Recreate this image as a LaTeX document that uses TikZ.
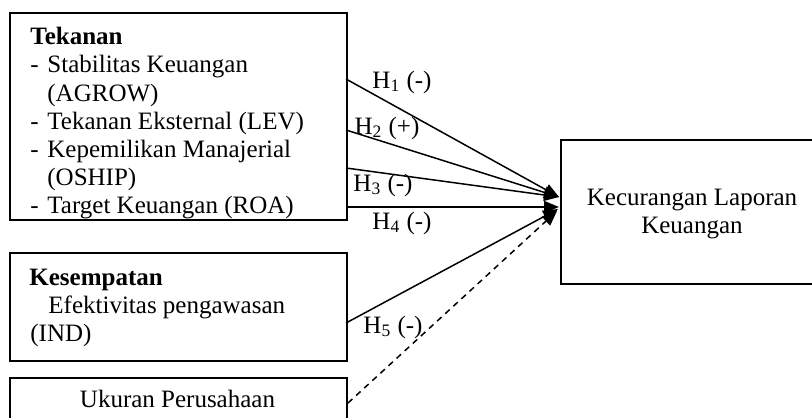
\documentclass[tikz,border=0pt]{standalone}
\usepackage{fontspec}
\setmainfont{Liberation Serif}
\usetikzlibrary{arrows.meta}
\begin{document}
\begin{tikzpicture}[x=0.5pt,y=-0.5pt,
  box/.style={draw, line width=0.8pt, inner sep=0, anchor=north west},
  txt/.style={anchor=base west, inner sep=0, font=\fontsize{12.5}{14}\selectfont},
  ctxt/.style={anchor=base, inner sep=0, font=\fontsize{12.5}{14}\selectfont},
  lbl/.style={inner sep=0, font=\fontsize{12.5}{14}\selectfont},
  conn/.style={line width=0.75pt, -{Triangle[length=7.5pt,width=6pt]}},
  dconn/.style={conn, dash pattern=on 3pt off 2.5pt}]
\useasboundingbox (0,0) rectangle (812,417);
\begin{scope}
\clip (0,0) rectangle (812,417);
% boxes
\node[box, minimum width=168.5pt, minimum height=103.5pt] (tek) at (9,12) {};
\node[box, minimum width=168.5pt, minimum height=54pt] (kes) at (9,252) {};
\node[box, minimum width=168.5pt, minimum height=40pt] (uk) at (9,377) {};
\node[box, minimum width=132pt, minimum height=72pt] (kec) at (560,139) {};
% Tekanan text
\begin{scope}
\clip (9,12) rectangle (346,218.5);
\node[txt] (t0) at (30,45) {\textbf{Tekanan}};
\node[txt] (d1) at (30,73) {-};
\node[txt] (t1) at (47,73) {Stabilitas Keuangan};
\node[txt] (t1b) at (47,101) {(AGROW)};
\node[txt] (d2) at (30,129) {-};
\node[txt] (t2) at (47,129) {Tekanan Eksternal (LEV)};
\node[txt] (d3) at (30,157) {-};
\node[txt] (t3) at (47,157) {Kepemilikan Manajerial};
\node[txt] (t3b) at (47,185) {(OSHIP)};
\node[txt] (d4) at (30,213) {-};
\node[txt] (t4) at (47,213) {Target Keuangan (ROA)};
\end{scope}
% Kesempatan text
\node[txt] (k0) at (29,285) {\textbf{Kesempatan}};
\node[txt] (k1) at (48,313) {Efektivitas pengawasan};
\node[txt] (k2) at (30,341) {(IND)};
% Ukuran
\node[ctxt] (u0) at (177.5,407) {Ukuran Perusahaan};
% Kecurangan
\node[ctxt] (c0) at (692,205) {Kecurangan Laporan};
\node[ctxt] (c1) at (692,233) {Keuangan};
% connector ends
\coordinate (s1) at (346,79);
\coordinate (s2) at (346,130);
\coordinate (s3) at (346,168);
\coordinate (s4) at (346,207);
\coordinate (s5) at (346,323);
\coordinate (s6) at (348,403);
\coordinate (e1) at (559,197);
\coordinate (e4) at (559,207);
\coordinate (e5) at (558,209);
\coordinate (e6) at (557,211);
\draw[conn] (s1) -- (e1);
\draw[conn] (s2) -- (e1);
\draw[conn] (s3) -- (e1);
\draw[conn] (s4) -- (e4);
\draw[conn] (s5) -- (e5);
\draw[dconn] (s6) -- (e6);
% labels
\node[lbl] (h1) at (402,82) {H\textsubscript{1} (-)};
\node[lbl] (h2) at (387,128) {H\textsubscript{2} (+)};
\node[lbl] (h3) at (383,185) {H\textsubscript{3} (-)};
\node[lbl] (h4) at (402,223) {H\textsubscript{4} (-)};
\node[lbl] (h5) at (393,327) {H\textsubscript{5} (-)};
\end{scope}
\end{tikzpicture}
\end{document}
